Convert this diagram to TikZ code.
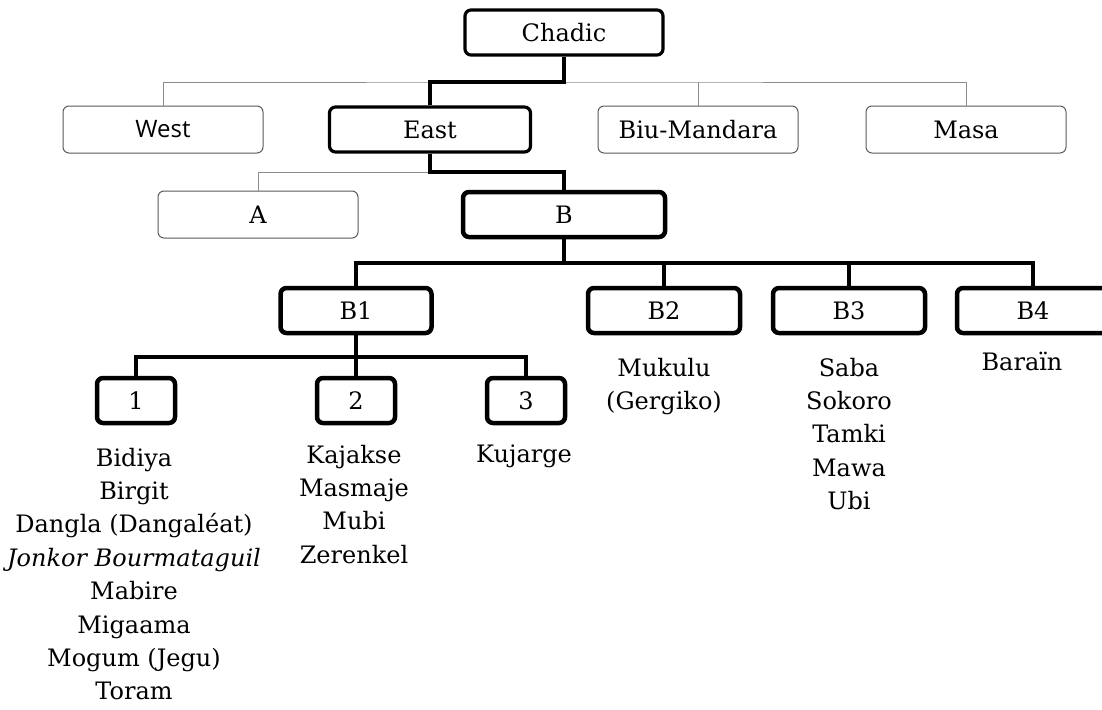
\documentclass[tikz,border=0pt]{standalone}
\usepackage{fontspec}
\setmainfont{DejaVu Serif}
\newfontfamily\sansf{Open Sans}
\newcommand{\fsz}{\fontsize{24}{33.4}\selectfont}
\definecolor{thingray}{HTML}{8C8C8C}
\definecolor{boxgray}{HTML}{5A5A5A}
\begin{document}
\begin{tikzpicture}[x=1pt,y=-1pt,
  thinbox/.style={draw=boxgray, line width=1pt, rounded corners=6pt, minimum height=47pt, minimum width=200pt, inner sep=0pt, font=\fsz},
  midbox/.style={draw=black, line width=3.2pt, rounded corners=6pt, minimum height=45pt, inner sep=0pt, font=\fsz},
  bigbox/.style={draw=black, line width=4.5pt, rounded corners=6pt, minimum height=45pt, inner sep=0pt, font=\fsz},
  thinline/.style={draw=thingray, line width=1pt},
  midline/.style={draw=black, line width=3.2pt},
  bigline/.style={draw=black, line width=4.5pt},
  listtext/.style={anchor=base, inner sep=0pt, font=\fsz}]
\clip (0,0) rectangle (1102,709);
\fill[white] (0,0) rectangle (1102,709);
% nodes
\node[midbox, minimum width=198pt] (chadic) at (564,32.5) {Chadic};
\node[thinbox] (west) at (163,129.5) {\sansf West};
\node[midbox, minimum width=201pt] (east) at (430,129.5) {East};
\node[thinbox] (biu) at (698,129.5) {Biu-Mandara};
\node[thinbox] (masa) at (966,129.5) {Masa};
\node[thinbox] (a) at (258,214.5) {A};
\node[bigbox, minimum width=202pt] (b) at (564,214.5) {B};
\node[bigbox, minimum width=151pt] (b1) at (356,310.5) {B1};
\node[bigbox, minimum width=152pt] (b2) at (664,310.5) {B2};
\node[bigbox, minimum width=152pt] (b3) at (849,310.5) {B3};
\node[bigbox, minimum width=152pt] (b4) at (1033,310.5) {B4};
\node[bigbox, minimum width=78pt] (n1) at (136,400.5) {1};
\node[bigbox, minimum width=78pt] (n2) at (356,400.5) {2};
\node[bigbox, minimum width=78pt] (n3) at (526,400.5) {3};
% bus points
\coordinate (bus1) at (564,82);
\coordinate (bus2) at (430,172);
\coordinate (bus3) at (564,263);
\coordinate (bus4) at (356,357);
% thin connectors
\draw[thinline] (west.north) |- (bus1) -| (masa.north);
\draw[thinline] (biu.north) -- (biu.north |- bus1);
\draw[thinline] (a.north) |- (bus2);
% thick connectors
\draw[midline] (chadic.south) -- (bus1) -| (east.north);
\draw[midline] (east.south) -- (bus2) -| (b.north);
\draw[bigline] (b.south) -- (bus3);
\draw[bigline] (b1.north) |- (bus3) -| (b4.north);
\draw[bigline] (b2.north) -- (b2.north |- bus3);
\draw[bigline] (b3.north) -- (b3.north |- bus3);
\draw[bigline] (b1.south) -- (bus4) -- (n2.north);
\draw[bigline] (n1.north) |- (bus4) -| (n3.north);
% lists
\node[listtext] (l1) at (134,466) {\parbox[t]{300pt}{\centering\fsz Bidiya\\Birgit\\Dangla (Dangaléat)\\\textit{Jonkor Bourmataguil}\\Mabire\\Migaama\\Mogum (Jegu)\\Toram}};
\node[listtext] (l2) at (354,463) {\parbox[t]{200pt}{\centering\fsz Kajakse\\Masmaje\\Mubi\\Zerenkel}};
\node[listtext] (l3) at (524,462) {\parbox[t]{200pt}{\centering\fsz Kujarge}};
\node[listtext] (l4) at (664,376) {\parbox[t]{200pt}{\centering\fsz Mukulu\\(Gergiko)}};
\node[listtext] (l5) at (849,376) {\parbox[t]{200pt}{\centering\fsz Saba\\Sokoro\\Tamki\\Mawa\\Ubi}};
\node[listtext] (l6) at (1022,370) {\parbox[t]{200pt}{\centering\fsz Baraïn}};
\end{tikzpicture}
\end{document}
